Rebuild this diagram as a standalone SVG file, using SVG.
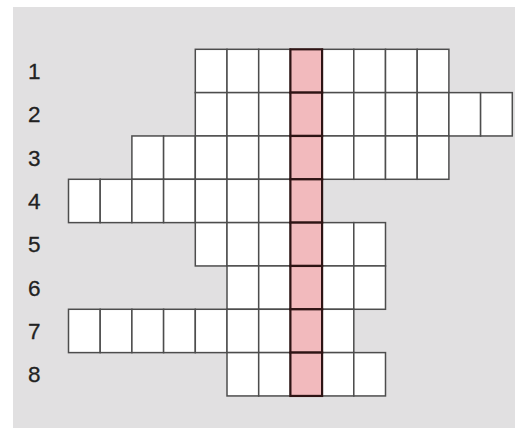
<svg xmlns="http://www.w3.org/2000/svg" width="515" height="428" viewBox="0 0 515 428">
<style>
.bg{fill:#e1e0e1}
.c{fill:#ffffff;stroke:#4d4d4d;stroke-width:1.5}
.p{fill:#f2babd;stroke:#2e1414;stroke-width:2.2}
.n{font-family:"Liberation Sans",Arial,sans-serif;font-size:22.5px;fill:#222222;stroke:#222222;stroke-width:0.3}
</style>
<defs>
<rect id="cell" width="31.7" height="43.33" class="c"/>
<rect id="pcell" width="31.7" height="43.33" class="p"/>
</defs>
<rect x="0" y="0" width="515" height="428" fill="#ffffff"/>
<rect x="13" y="7" width="502" height="421" class="bg"/>
<g id="labels">
<text class="n" x="28" y="79">1</text>
<text class="n" x="28" y="122.3">2</text>
<text class="n" x="28" y="165.7">3</text>
<text class="n" x="28" y="209">4</text>
<text class="n" x="28" y="252.3">5</text>
<text class="n" x="28" y="295.7">6</text>
<text class="n" x="28" y="339">7</text>
<text class="n" x="28" y="382.3">8</text>
</g>
<g id="row1">
<use href="#cell" x="195.3" y="49.3"/><use href="#cell" x="227" y="49.3"/><use href="#cell" x="258.7" y="49.3"/>
<use href="#cell" x="322.1" y="49.3"/><use href="#cell" x="353.8" y="49.3"/><use href="#cell" x="385.5" y="49.3"/><use href="#cell" x="417.2" y="49.3"/>
</g>
<g id="row2">
<use href="#cell" x="195.3" y="92.63"/><use href="#cell" x="227" y="92.63"/><use href="#cell" x="258.7" y="92.63"/>
<use href="#cell" x="322.1" y="92.63"/><use href="#cell" x="353.8" y="92.63"/><use href="#cell" x="385.5" y="92.63"/><use href="#cell" x="417.2" y="92.63"/><use href="#cell" x="448.9" y="92.63"/><use href="#cell" x="480.6" y="92.63"/>
</g>
<g id="row3">
<use href="#cell" x="131.9" y="135.96"/><use href="#cell" x="163.6" y="135.96"/><use href="#cell" x="195.3" y="135.96"/><use href="#cell" x="227" y="135.96"/><use href="#cell" x="258.7" y="135.96"/>
<use href="#cell" x="322.1" y="135.96"/><use href="#cell" x="353.8" y="135.96"/><use href="#cell" x="385.5" y="135.96"/><use href="#cell" x="417.2" y="135.96"/>
</g>
<g id="row4">
<use href="#cell" x="68.5" y="179.29"/><use href="#cell" x="100.2" y="179.29"/><use href="#cell" x="131.9" y="179.29"/><use href="#cell" x="163.6" y="179.29"/><use href="#cell" x="195.3" y="179.29"/><use href="#cell" x="227" y="179.29"/><use href="#cell" x="258.7" y="179.29"/>
</g>
<g id="row5">
<use href="#cell" x="195.3" y="222.62"/><use href="#cell" x="227" y="222.62"/><use href="#cell" x="258.7" y="222.62"/>
<use href="#cell" x="322.1" y="222.62"/><use href="#cell" x="353.8" y="222.62"/>
</g>
<g id="row6">
<use href="#cell" x="227" y="265.95"/><use href="#cell" x="258.7" y="265.95"/>
<use href="#cell" x="322.1" y="265.95"/><use href="#cell" x="353.8" y="265.95"/>
</g>
<g id="row7">
<use href="#cell" x="68.5" y="309.28"/><use href="#cell" x="100.2" y="309.28"/><use href="#cell" x="131.9" y="309.28"/><use href="#cell" x="163.6" y="309.28"/><use href="#cell" x="195.3" y="309.28"/><use href="#cell" x="227" y="309.28"/><use href="#cell" x="258.7" y="309.28"/>
<use href="#cell" x="322.1" y="309.28"/>
</g>
<g id="row8">
<use href="#cell" x="227" y="352.61"/><use href="#cell" x="258.7" y="352.61"/>
<use href="#cell" x="322.1" y="352.61"/><use href="#cell" x="353.8" y="352.61"/>
</g>
<g id="keyword">
<use href="#pcell" x="290.4" y="49.3"/>
<use href="#pcell" x="290.4" y="92.63"/>
<use href="#pcell" x="290.4" y="135.96"/>
<use href="#pcell" x="290.4" y="179.29"/>
<use href="#pcell" x="290.4" y="222.62"/>
<use href="#pcell" x="290.4" y="265.95"/>
<use href="#pcell" x="290.4" y="309.28"/>
<use href="#pcell" x="290.4" y="352.61"/>
</g>
</svg>
